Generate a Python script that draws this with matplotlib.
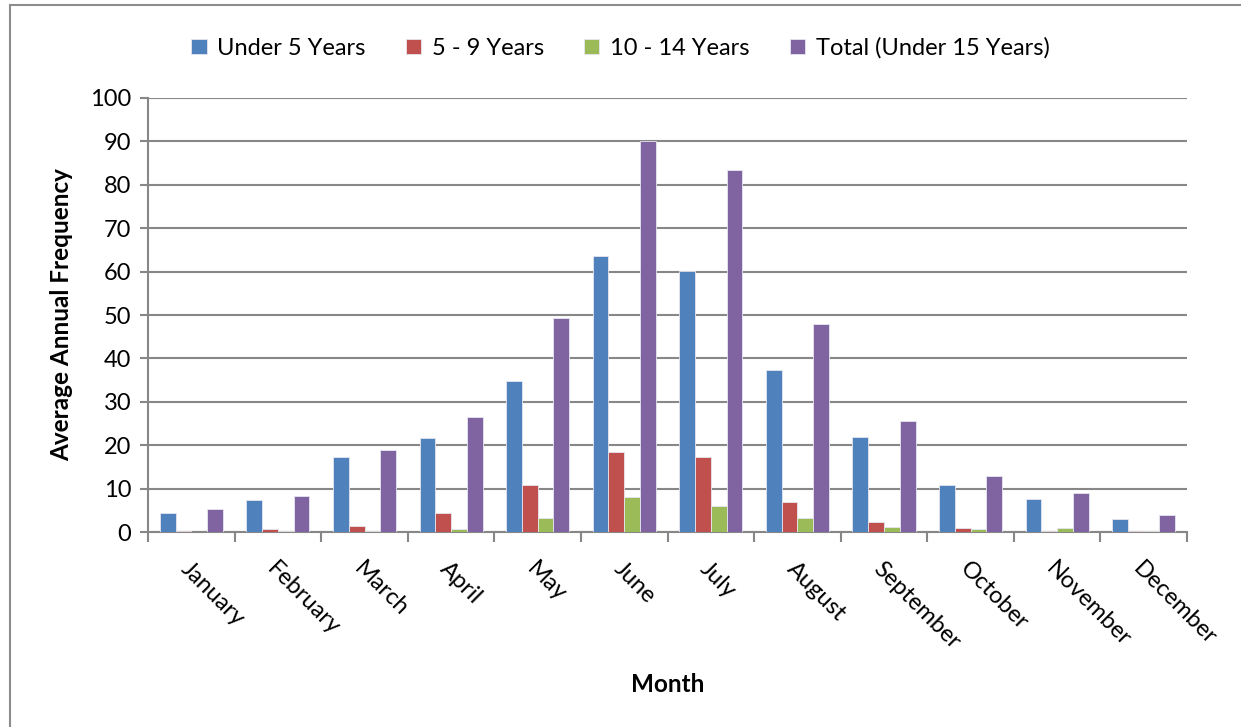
import numpy as np
import matplotlib.pyplot as plt
from matplotlib.patches import Rectangle

months = ['January', 'February', 'March', 'April', 'May', 'June',
          'July', 'August', 'September', 'October', 'November', 'December']
under5 = [4.3, 7.3, 17.3, 21.6, 34.7, 63.7, 60.2, 37.4, 21.9, 10.9, 7.6, 3.0]
age5_9 = [0.2, 0.6, 1.3, 4.3, 10.9, 18.4, 17.3, 7.0, 2.3, 1.0, 0.2, 0.3]
age10_14 = [0.1, 0.2, 0.2, 0.7, 3.3, 8.0, 5.9, 3.3, 1.2, 0.7, 1.0, 0.2]
total = [5.3, 8.3, 19.0, 26.6, 49.4, 90.2, 83.4, 48.0, 25.6, 12.9, 9.0, 3.9]

series = ['Under 5 Years', '5 - 9 Years', '10 - 14 Years', 'Total (Under 15 Years)']
colors = ['#4F81BD', '#C0504D', '#9BBB59', '#8064A2']

plt.rcParams['font.family'] = ['Lato', 'DejaVu Sans']

fig = plt.figure(figsize=(12.41, 7.27), dpi=100)
ax = fig.add_axes([0.1193, 0.2682, 0.8372, 0.597])

# outer frame of the chart box
fig.patches.append(Rectangle((10 / 1241, -0.05), 1.1, 1 - 5 / 727 + 0.05,
                             transform=fig.transFigure, fill=False,
                             edgecolor='#8c8c8c', linewidth=1.5))

x = np.arange(len(months))
w = 0.182
for i, (vals, c, name) in enumerate(zip([under5, age5_9, age10_14, total], colors, series)):
    ax.bar(x + (i - 1.5) * w, vals, width=w, color=c, edgecolor='#e6e6f0',
           linewidth=0.6, label=name, zorder=3)

ax.set_xlim(-0.5, len(months) - 0.5)
ax.set_ylim(0, 100)
ax.set_yticks(range(0, 101, 10))
ax.yaxis.grid(True, color='#878787', linewidth=1.5, zorder=0)
ax.set_axisbelow(True)

ax.set_xticks(x)
ax.set_xticklabels(months, rotation=-45, ha='left', va='top',
                   rotation_mode='anchor', fontsize=17)
ax.set_xticks(np.arange(-0.5, len(months), 1), minor=True)
ax.tick_params(axis='x', which='major', length=0, pad=19)
ax.tick_params(axis='x', which='minor', length=7, width=1.5, color='#878787')
ax.tick_params(axis='y', length=6, width=1.5, color='#878787', labelsize=17, pad=6)

for s in ['top', 'right']:
    ax.spines[s].set_visible(False)
for s in ['left', 'bottom']:
    ax.spines[s].set_color('#878787')
    ax.spines[s].set_linewidth(1.5)

ax.set_ylabel('Average Annual Frequency', fontsize=17.5, fontweight='bold', labelpad=12)
ax.set_xlabel('Month', fontsize=17.5, fontweight='bold', labelpad=14)

fig.legend(loc='upper center', bbox_to_anchor=(0.5, 0.978), ncol=4, frameon=False,
           fontsize=17, handlelength=0.65, handleheight=0.65, columnspacing=1.7,
           handletextpad=0.45)

fig.savefig('out.png', dpi=100)
